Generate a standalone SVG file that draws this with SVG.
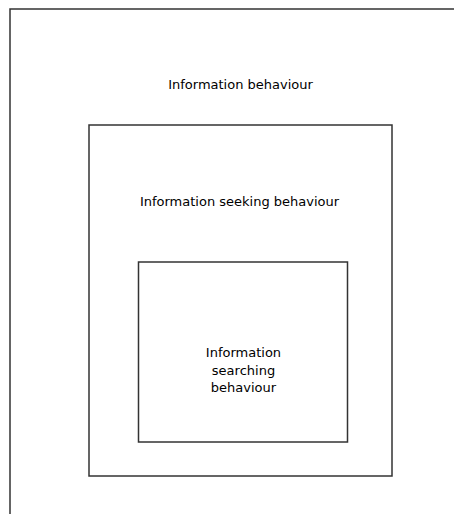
<svg xmlns="http://www.w3.org/2000/svg" width="454" height="514" viewBox="0 0 454 514">
<style>
.box{fill:none;stroke:#333;stroke-width:1.5}
.lbl{font-family:"DejaVu Sans",Verdana,sans-serif;font-size:13px;fill:#000;text-anchor:middle}
</style>
<rect width="454" height="514" fill="#fff"/>
<g id="information-behaviour">
<rect class="box" x="10" y="9" width="460" height="520"/>
<text class="lbl" x="240.5" y="88.5">Information behaviour</text>
</g>
<g id="information-seeking-behaviour">
<rect class="box" x="89" y="125" width="303" height="351"/>
<text class="lbl" x="239.5" y="205.5">Information seeking behaviour</text>
</g>
<g id="information-searching-behaviour">
<rect class="box" x="138.5" y="262" width="209" height="180"/>
<text class="lbl" x="243.5" y="357">Information</text>
<text class="lbl" x="243.5" y="374.5">searching</text>
<text class="lbl" x="243.5" y="392">behaviour</text>
</g>
<g id="connectors"/>
</svg>
